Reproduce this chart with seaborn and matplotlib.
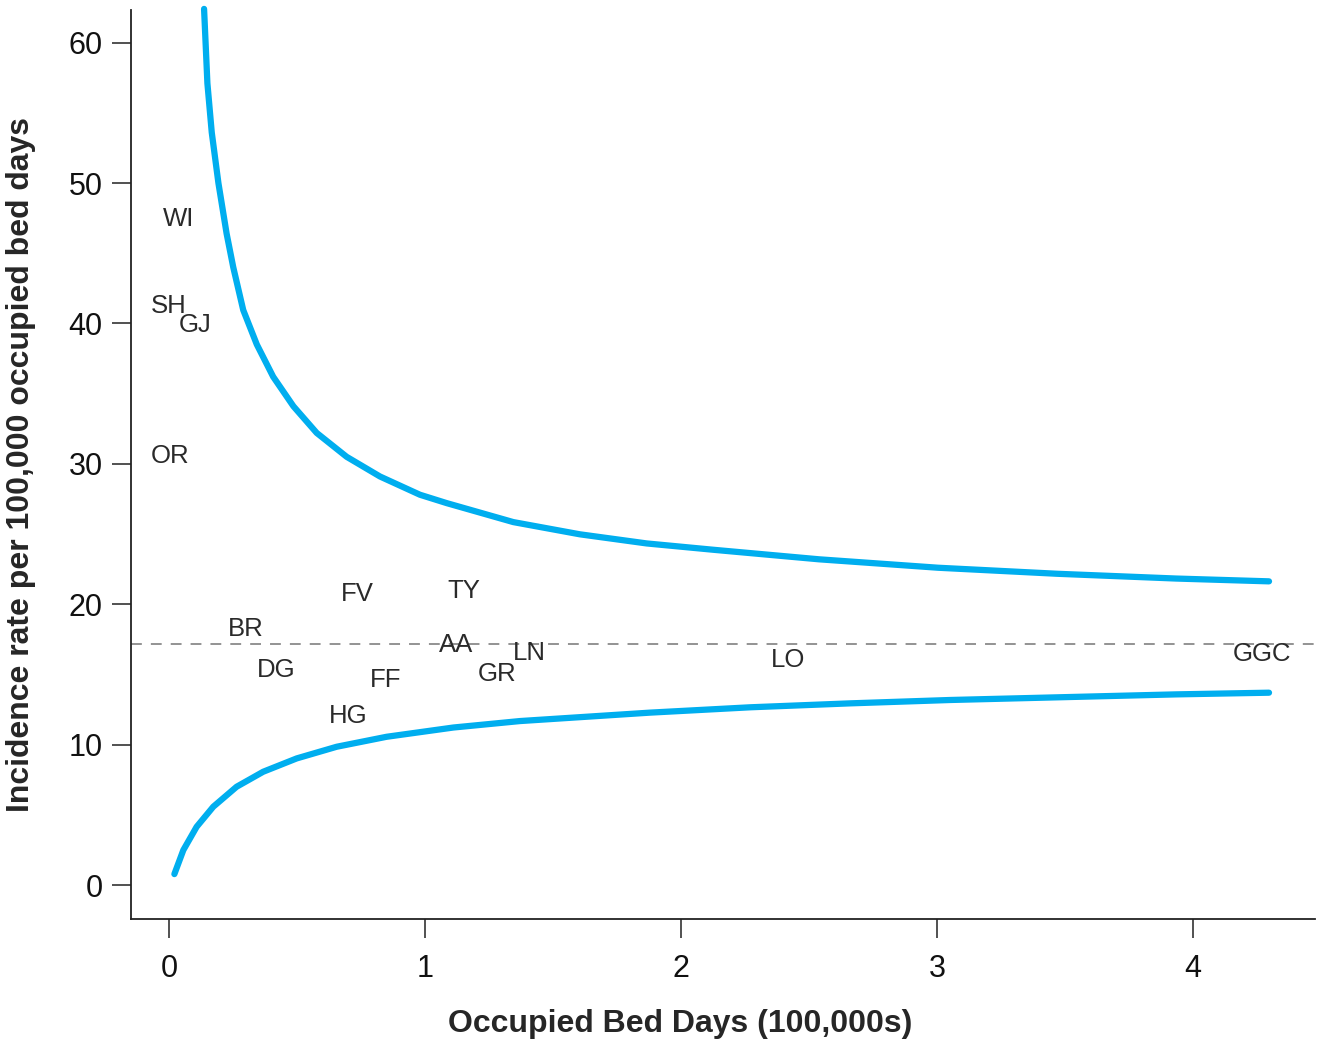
import pandas as pd
import matplotlib.pyplot as plt
import seaborn as sns

# boards: occupied bed days (100,000s) and incidence rate
codes = ["WI", "SH", "GJ", "OR", "FV", "TY", "BR", "AA", "LN", "DG", "GR", "FF", "HG", "LO", "GGC"]
bed_days = [0.036, 0.0, 0.102, 0.004, 0.735, 1.153, 0.301, 1.12, 1.407, 0.42, 1.28, 0.846, 0.70, 2.418, 4.268]
rates = [47.6, 41.4, 40.1, 30.7, 20.9, 21.1, 18.4, 17.3, 16.7, 15.5, 15.2, 14.8, 12.2, 16.2, 16.6]

overall_rate = 17.2

# control limits
upper_x = [0.137, 0.150, 0.167, 0.193, 0.225, 0.251, 0.290, 0.343, 0.407, 0.486, 0.577, 0.694,
           0.824, 0.980, 1.085, 1.345, 1.605, 1.866, 2.126, 2.387, 2.539, 3.004, 3.469, 3.934, 4.297]
upper_y = [62.4, 57.1, 53.6, 50.0, 46.4, 44.0, 40.95, 38.5, 36.2, 34.1, 32.2, 30.5,
           29.1, 27.8, 27.2, 25.85, 24.98, 24.33, 23.88, 23.45, 23.2, 22.6, 22.17, 21.83, 21.63]
lower_x = [0.021, 0.056, 0.108, 0.173, 0.264, 0.368, 0.499, 0.655, 0.850, 1.111, 1.371,
           1.879, 2.27, 2.66, 3.051, 3.934, 4.297]
lower_y = [0.78, 2.49, 4.15, 5.58, 7.0, 8.07, 9.02, 9.85, 10.56, 11.22, 11.68,
           12.28, 12.66, 12.94, 13.18, 13.58, 13.70]

sns.set_style("ticks")
plt.rcParams['font.family'] = ['Liberation Sans', 'DejaVu Sans']

fig = plt.figure(figsize=(13.22, 10.44), dpi=100)
ax = fig.add_axes([0.0991, 0.1197, 0.8956, 0.8707])

blue = "#00AEEF"
up_df = pd.DataFrame({"x": upper_x, "y": upper_y})
lo_df = pd.DataFrame({"x": lower_x, "y": lower_y})
sns.lineplot(data=up_df, x="x", y="y", sort=False, color=blue, lw=4.5, ax=ax,
             solid_capstyle="round", solid_joinstyle="round", clip_on=False)
sns.lineplot(data=lo_df, x="x", y="y", sort=False, color=blue, lw=4.5, ax=ax,
             solid_capstyle="round", solid_joinstyle="round", clip_on=False)

ax.axhline(overall_rate, color="#8a8a8a", lw=1.3, ls=(0, (6, 5)), zorder=1)

for code, xv, yv in zip(codes, bed_days, rates):
    ax.text(xv, yv, code, ha="center", va="center_baseline", fontsize=18.5,
            color="#2a2a2a")

ax.set_xlim(-0.1484, 4.4766)
ax.set_ylim(-2.42, 62.32)
ax.set_xticks([0, 1, 2, 3, 4])
ax.set_yticks([0, 10, 20, 30, 40, 50, 60])

sns.despine(ax=ax)
for s in ["left", "bottom"]:
    ax.spines[s].set_linewidth(1.3)
    ax.spines[s].set_color("#222222")
ax.tick_params(axis="both", direction="out", length=13.5, width=1.1, color="#222222",
               labelsize=22, labelcolor="#111111")
ax.tick_params(axis="x", pad=12)
ax.tick_params(axis="y", pad=7)

ax.set_xlabel("Occupied Bed Days (100,000s)", fontsize=23, fontweight="bold")
ax.set_ylabel("Incidence rate per 100,000 occupied bed days", fontsize=23, fontweight="bold")
ax.xaxis.set_label_coords(0.4637, -0.099)
ax.yaxis.set_label_coords(-0.080, 0.5)

plt.savefig("out.png", dpi=100)
plt.close(fig)
